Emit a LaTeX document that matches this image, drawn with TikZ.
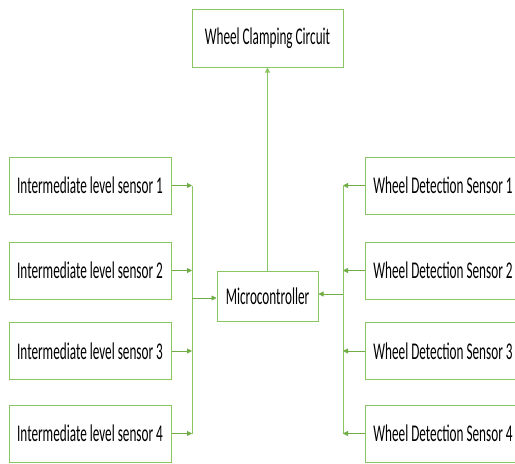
\documentclass[tikz,border=0pt]{standalone}
\usepackage{fontspec}
\setmainfont{Carlito}[FakeStretch=0.55]
\usepackage{tikz}
\usetikzlibrary{arrows.meta}
\definecolor{boxgreen}{RGB}{140,198,100}
\definecolor{arrowgreen}{RGB}{112,173,71}

\begin{document}
\begin{tikzpicture}[x=1pt, y=-1pt,
    block/.style = {draw=boxgreen, line width=1pt, fill=white, inner sep=0pt,
        minimum height=57pt, font=\fontsize{24}{28}\selectfont},
    link/.style = {draw=arrowgreen, line width=0.8pt, -{Triangle[length=5pt, width=5pt]}},
    bus/.style = {draw=boxgreen, line width=0.8pt}]
    \useasboundingbox (0,0) rectangle (515,464);

    \node[block, minimum width=151pt, minimum height=58pt] (clamp) at (267.5,38) {Wheel Clamping Circuit};
    \node[block, minimum width=101pt, minimum height=50pt] (mcu) at (267.5,296) {Microcontroller};

    \node[block, minimum width=162pt] (l1) at (90,185.5) {Intermediate level sensor 1};
    \node[block, minimum width=162pt] (l2) at (90,270.5) {Intermediate level sensor 2};
    \node[block, minimum width=162pt] (l3) at (90,351) {Intermediate level sensor 3};
    \node[block, minimum width=162pt] (l4) at (90,433.5) {Intermediate level sensor 4};

    \node[block, minimum width=156pt] (r1) at (443,185.5) {Wheel Detection Sensor 1};
    \node[block, minimum width=156pt] (r2) at (443,270.5) {Wheel Detection Sensor 2};
    \node[block, minimum width=156pt] (r3) at (443,351) {Wheel Detection Sensor 3};
    \node[block, minimum width=156pt] (r4) at (443,433.5) {Wheel Detection Sensor 4};

    % bus lines
    \coordinate (ltop) at (192,185.5);
    \coordinate (lbot) at (192,433.5);
    \coordinate (rtop) at (343,185.5);
    \coordinate (rbot) at (343,433.5);
    \draw[bus] (ltop) -- (lbot);
    \draw[bus] (rtop) -- (rbot);

    \foreach \i in {1,...,4} {
        \draw[link] (l\i.east) -- (l\i.east -| ltop);
        \draw[link] (r\i.west) -- (r\i.west -| rtop);
    }

    \draw[link] (ltop |- 0,298) -- (mcu.west |- 0,298);
    \draw[link] (rtop |- 0,294) -- (mcu.east |- 0,294);
    \draw[link, draw=boxgreen] (mcu.north) -- (clamp.south);
\end{tikzpicture}
\end{document}
